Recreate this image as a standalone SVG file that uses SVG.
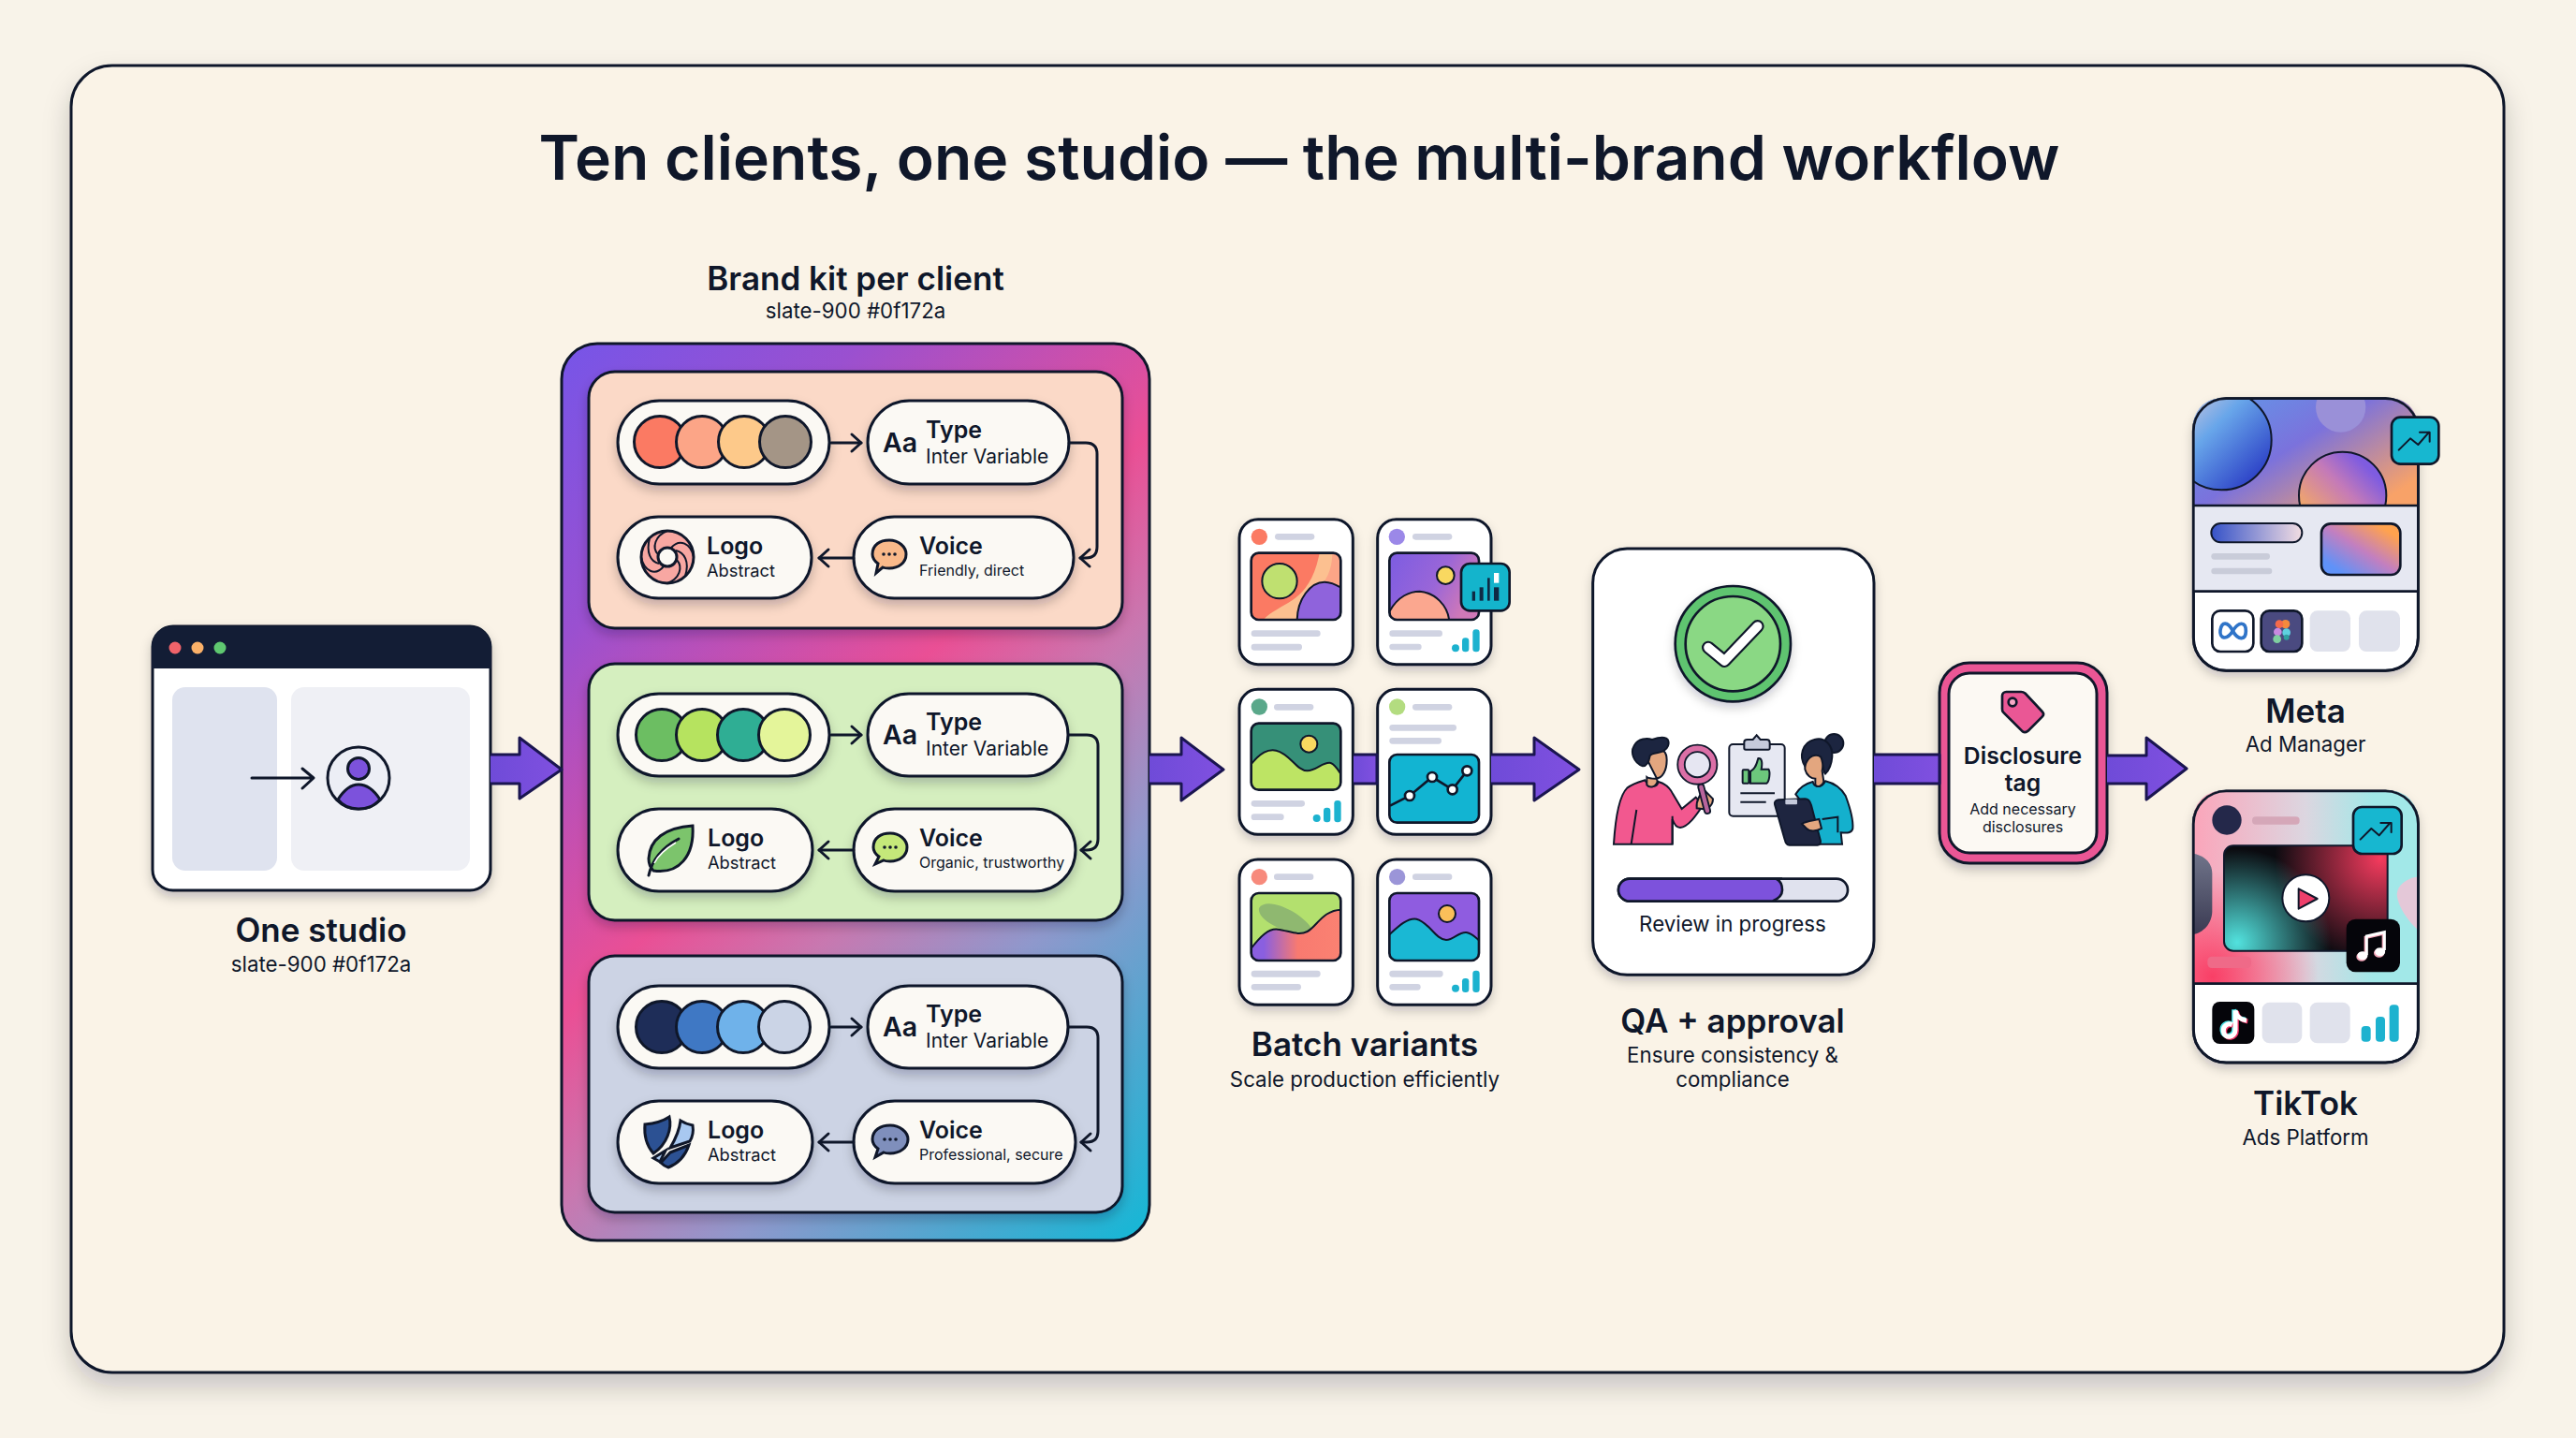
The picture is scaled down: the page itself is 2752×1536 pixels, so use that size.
<svg xmlns="http://www.w3.org/2000/svg" width="2752" height="1536" viewBox="0 0 2752 1536">
<style>
text{font-family:Inter,"Liberation Sans",sans-serif;fill:#0f172a}
.title{font-size:66px;font-weight:600;text-anchor:middle}
.h{font-size:35px;font-weight:600;text-anchor:middle}
.s{font-size:22.3px;font-weight:400;text-anchor:middle}
.pt{font-size:25px;font-weight:600}
.aa{font-size:28.5px;font-weight:600}
.ps{font-size:21px;font-weight:400}
.ps2{font-size:18.3px;font-weight:400}
.ps3{font-size:16px;font-weight:400}
.k{stroke:#0f172a;stroke-width:3}
.z{stroke:#0f172a;stroke-width:8}
.zt{stroke:#0f172a;stroke-width:6}
.pill{fill:#fbf9f4;stroke:#0f172a;stroke-width:3;filter:url(#sh)}
.g{fill:#d0d3e2}
.teal{fill:#1cb2cf}
.card{fill:#fff;stroke:#0f172a;stroke-width:9;filter:url(#shz)}
.ln{fill:none;stroke:#0f172a;stroke-width:3;stroke-linecap:round;stroke-linejoin:round}
.big{fill:url(#pur);stroke:#1a1550;stroke-width:3;stroke-linejoin:round}
</style>
<defs>
<filter id="sh" x="-20%" y="-20%" width="140%" height="150%"><feDropShadow dx="0" dy="6" stdDeviation="6" flood-color="#0f172a" flood-opacity=".22"/></filter>
<filter id="shz" x="-20%" y="-20%" width="140%" height="140%"><feDropShadow dx="0" dy="16" stdDeviation="16" flood-color="#0f172a" flood-opacity=".2"/></filter>
<filter id="shf" x="-5%" y="-5%" width="110%" height="110%"><feDropShadow dx="0" dy="14" stdDeviation="14" flood-color="#0f172a" flood-opacity=".2"/></filter>
<linearGradient id="brand" gradientUnits="userSpaceOnUse" x1="600" y1="367" x2="1393" y2="1160"><stop offset="0" stop-color="#7655e8"/><stop offset=".2" stop-color="#9a50d0"/><stop offset=".456" stop-color="#ea4f95"/><stop offset=".58" stop-color="#c878b0"/><stop offset=".72" stop-color="#8f98cc"/><stop offset=".87" stop-color="#4aa8d0"/><stop offset="1" stop-color="#12b8d6"/></linearGradient>
<linearGradient id="pur" x1="0" y1="0" x2="1" y2="0"><stop offset="0" stop-color="#6f4bd8"/><stop offset="1" stop-color="#8050e0"/></linearGradient>
<linearGradient id="v1" x1="0" y1="0" x2="1" y2=".4"><stop offset="0" stop-color="#7c5ce2"/><stop offset=".6" stop-color="#9a66d8"/><stop offset="1" stop-color="#cf78b8"/></linearGradient>
<linearGradient id="hill3" x1="0" y1="0" x2="1" y2="0"><stop offset=".15" stop-color="#8a5fe0"/><stop offset=".52" stop-color="#f87a70"/><stop offset="1" stop-color="#fb8272"/></linearGradient>
<linearGradient id="hero" x1="0" y1="0" x2="1" y2=".75"><stop offset="0" stop-color="#5f9cea"/><stop offset=".5" stop-color="#7b72dc"/><stop offset="1" stop-color="#f8a268"/></linearGradient>
<linearGradient id="c1" x1="0" y1="0" x2="1" y2="1"><stop offset=".05" stop-color="#dccbdc"/><stop offset=".4" stop-color="#68a6ea"/><stop offset=".85" stop-color="#2f45c8"/></linearGradient>
<linearGradient id="c2" x1="0" y1="1" x2="1" y2="0"><stop offset=".1" stop-color="#ffb452"/><stop offset=".55" stop-color="#c47ab8"/><stop offset=".8" stop-color="#7f5ce0"/></linearGradient>
<linearGradient id="mp" x1="0" y1="0" x2="1" y2="0"><stop offset="0" stop-color="#3552c8"/><stop offset="1" stop-color="#f2dde2"/></linearGradient>
<linearGradient id="mr" x1="0" y1="1" x2="1" y2="0"><stop offset=".15" stop-color="#5f92f8"/><stop offset=".5" stop-color="#c27fc0"/><stop offset=".85" stop-color="#ffa24e"/></linearGradient>
<linearGradient id="tk" x1="0" y1="0" x2="1" y2="0"><stop offset="0" stop-color="#fba5ba"/><stop offset=".5" stop-color="#dcd6e0"/><stop offset=".8" stop-color="#a2e8e8"/></linearGradient>
<radialGradient id="tkr" gradientUnits="userSpaceOnUse" cx="130" cy="640" r="340"><stop offset="0" stop-color="#f93f66"/><stop offset="1" stop-color="#f93f66" stop-opacity="0"/></radialGradient>
<radialGradient id="vr" gradientUnits="userSpaceOnUse" cx="670" cy="260" r="340"><stop offset="0" stop-color="#f53b5e"/><stop offset="1" stop-color="#f53b5e" stop-opacity="0"/></radialGradient>
<radialGradient id="vt" gradientUnits="userSpaceOnUse" cx="210" cy="530" r="300"><stop offset="0" stop-color="#52e2de"/><stop offset="1" stop-color="#52e2de" stop-opacity="0"/></radialGradient>
<linearGradient id="blob" x1="0" y1="0" x2="0" y2="1"><stop offset="0" stop-color="#70748a"/><stop offset="1" stop-color="#3a3a52"/></linearGradient>
<clipPath id="metaTop"><path d="M68,390 V150 C68,85 105,45 170,45 H690 C755,45 790,85 790,150 V390 Z"/></clipPath>
<clipPath id="tkTop"><path d="M68,662 V150 C68,85 105,43 170,43 H690 C755,43 790,85 790,150 V662 Z"/></clipPath>
<clipPath id="vid"><rect x="168" y="220" width="524" height="337" rx="30"/></clipPath>
<clipPath id="i1"><rect x="110" y="152" width="287" height="214" rx="24"/></clipPath>
<clipPath id="i2"><rect x="553" y="152" width="287" height="214" rx="24"/></clipPath>
<clipPath id="i3"><rect x="110" y="698" width="287" height="213" rx="24"/></clipPath>
<clipPath id="i5"><rect x="110" y="162" width="287" height="216" rx="24"/></clipPath>
<clipPath id="i6"><rect x="553" y="162" width="287" height="216" rx="24"/></clipPath>
<marker id="chev" viewBox="-14 -12 17 24" refX="0" refY="0" markerWidth="17" markerHeight="24" markerUnits="userSpaceOnUse" orient="auto"><path d="M-10,-9 L0,0 L-10,9" fill="none" stroke="#0f172a" stroke-width="3" stroke-linecap="round" stroke-linejoin="round"/></marker>
</defs>

<rect width="2752" height="1536" fill="#f8f3e9"/>
<rect id="frame" x="76" y="70" width="2599" height="1396" rx="44" fill="#faf3e7" stroke="#0f172a" stroke-width="3" filter="url(#shf)"/>
<text class="title" x="1388" y="192">Ten clients, one studio — the multi-brand workflow</text>

<g id="one-studio">
<rect x="163" y="669" width="361" height="282" rx="22" fill="#fff" class="k" filter="url(#sh)"/>
<path d="M162,714 V691 C162,678 172,669 185,669 H502 C515,669 525,678 525,691 V714 Z" fill="#131d35"/>
<circle cx="187" cy="692" r="6.5" fill="#f0636a"/><circle cx="211" cy="692" r="6.5" fill="#fbb169"/><circle cx="235" cy="692" r="6.5" fill="#5fc870"/>
<rect x="184" y="734" width="112" height="196" rx="14" fill="#dfe3ef"/>
<rect x="311" y="734" width="191" height="196" rx="14" fill="#eff0f5"/>
<path d="M269,831 H334 M323,821 L335,831 L323,842" class="ln"/>
<circle cx="383" cy="831" r="33" fill="#eceef5" class="k"/>
<circle cx="383" cy="821" r="11.5" fill="#7c52dc" class="k"/>
<path d="M361,854 C368,843 375,838 383,838 C391,838 399,843 406,854 C398,862 392,864 383,864 C374,864 367,862 361,854Z" fill="#7c52dc" class="k"/>
<text class="h" x="343" y="1006">One studio</text>
<text class="s" x="343" y="1038">slate-900 #0f172a</text>
</g>

<g id="brand-kit">
<text class="h" x="914" y="310">Brand kit per client</text>
<text class="s" x="914" y="340">slate-900 #0f172a</text>
<rect x="600" y="367" width="628" height="958" rx="38" fill="url(#brand)" stroke="#0f172a" stroke-width="3"/>

<g id="client-1">
<rect x="629" y="397" width="570" height="274" rx="28" fill="#fbd9c7" class="k" filter="url(#sh)"/>
<g id="c1-palette"><rect x="660" y="428" width="226" height="89" rx="44.5" class="pill"/>
<circle cx="705" cy="472" r="27.5" fill="#fb7a63" class="k"/><circle cx="750" cy="472" r="27.5" fill="#fca587" class="k"/><circle cx="795" cy="472" r="27.5" fill="#fdc98a" class="k"/><circle cx="839" cy="472" r="27.5" fill="#a49586" class="k"/></g>
<g id="c1-type"><rect x="927" y="428" width="215" height="89" rx="44.5" class="pill"/><text class="aa" x="943" y="483">Aa</text><text class="pt" x="989" y="468">Type</text><text class="ps" x="989" y="495">Inter Variable</text></g>
<g id="c1-logo"><rect x="660" y="552" width="207" height="87" rx="43.5" class="pill"/>
<circle cx="713" cy="595" r="28" fill="#f8a7a2" class="k"/><circle cx="713" cy="595" r="10" fill="#fbf9f4" class="k"/>
<path d="M713,567 C700,572 696,585 703,592 M741,595 C738,580 726,575 717,585 M713,623 C726,618 730,606 723,598 M685,595 C688,610 700,616 709,605 M694,575 C690,590 695,600 704,602 M732,615 C737,600 731,590 722,588" fill="none" stroke="#0f172a" stroke-width="2"/>
<text class="pt" x="755" y="592">Logo</text><text class="ps2" x="755" y="616">Abstract</text></g>
<g id="c1-voice"><rect x="912" y="552" width="235" height="87" rx="43.5" class="pill"/>
<path d="M932,592 C932,582 940,577 950,577 C960,577 968,584 968,592 C968,601 960,607 950,607 C947,607 945,607 943,606 L936,612 L938,602 C934,599 932,596 932,592Z" fill="#f9b98a" class="k"/><circle cx="944" cy="592" r="1.8" fill="#0f172a"/><circle cx="950" cy="592" r="1.8" fill="#0f172a"/><circle cx="956" cy="592" r="1.8" fill="#0f172a"/>
<text class="pt" x="982" y="592">Voice</text><text class="ps3" x="982" y="615">Friendly, direct</text></g>
</g>

<g id="client-2">
<rect x="629" y="709" width="570" height="274" rx="28" fill="#d5efbf" class="k" filter="url(#sh)"/>
<g id="c2-palette"><rect x="660" y="741" width="226" height="88" rx="44" class="pill"/>
<circle cx="707" cy="785" r="27.5" fill="#6cbe62" class="k"/><circle cx="750" cy="785" r="27.5" fill="#b6e35f" class="k"/><circle cx="794" cy="785" r="27.5" fill="#2fae94" class="k"/><circle cx="838" cy="785" r="27.5" fill="#e4f59a" class="k"/></g>
<g id="c2-type"><rect x="927" y="741" width="214" height="88" rx="44" class="pill"/><text class="aa" x="943" y="795">Aa</text><text class="pt" x="989" y="780">Type</text><text class="ps" x="989" y="807">Inter Variable</text></g>
<g id="c2-logo"><rect x="660" y="864" width="208" height="88" rx="44" class="pill"/>
<path d="M740,882 C710,884 694,897 693,917 C693,923 695,927 698,930 C725,934 742,915 740,882Z" fill="#7cc46c" class="k"/>
<path d="M693,935 C697,917 708,905 725,896" fill="none" stroke="#0f172a" stroke-width="3" stroke-linecap="round"/>
<path d="M699,922 C704,912 712,906 722,900" fill="none" stroke="#fff" stroke-width="1.5"/>
<text class="pt" x="756" y="904">Logo</text><text class="ps2" x="756" y="928">Abstract</text></g>
<g id="c2-voice"><rect x="912" y="864" width="237" height="88" rx="44" class="pill"/>
<path d="M933,905 C933,895 941,890 951,890 C961,890 969,897 969,905 C969,914 961,920 951,920 C948,920 946,920 944,919 L935,923 L939,915 C935,912 933,909 933,905Z" fill="#c5e87a" class="k"/><circle cx="945" cy="905" r="1.8" fill="#0f172a"/><circle cx="951" cy="905" r="1.8" fill="#0f172a"/><circle cx="957" cy="905" r="1.8" fill="#0f172a"/>
<text class="pt" x="982" y="904">Voice</text><text class="ps3" x="982" y="927">Organic, trustworthy</text></g>
</g>

<g id="client-3">
<rect x="629" y="1021" width="570" height="274" rx="28" fill="#ccd3e4" class="k" filter="url(#sh)"/>
<g id="c3-palette"><rect x="660" y="1053" width="226" height="88" rx="44" class="pill"/>
<circle cx="707" cy="1097" r="27.5" fill="#1e2d58" class="k"/><circle cx="750" cy="1097" r="27.5" fill="#3f78c4" class="k"/><circle cx="794" cy="1097" r="27.5" fill="#6fb2ea" class="k"/><circle cx="838" cy="1097" r="27.5" fill="#cbd4e6" class="k"/></g>
<g id="c3-type"><rect x="927" y="1053" width="214" height="88" rx="44" class="pill"/><text class="aa" x="943" y="1107">Aa</text><text class="pt" x="989" y="1092">Type</text><text class="ps" x="989" y="1119">Inter Variable</text></g>
<g id="c3-logo"><rect x="660" y="1176" width="208" height="88" rx="44" class="pill"/>
<path d="M689,1201 C700,1200 709,1197 715,1193 C718,1205 713,1222 698,1232 C691,1224 688,1212 689,1201Z" fill="#2c5193" class="k"/>
<path d="M727,1197 C730,1199 735,1201 740,1202 C741,1208 740,1214 737,1219 L716,1226 C722,1216 726,1206 727,1197Z" fill="#a8c8f0" class="k"/>
<path d="M698,1237 L711,1229 L705,1241 Z" fill="#a8c8f0" class="k"/>
<path d="M716,1231 L736,1223 C732,1235 724,1243 714,1247 C710,1246 708,1244 706,1242 Z" fill="#2c5193" class="k"/>
<text class="pt" x="756" y="1216">Logo</text><text class="ps2" x="756" y="1240">Abstract</text></g>
<g id="c3-voice"><rect x="912" y="1176" width="237" height="88" rx="44" class="pill"/>
<path d="M932,1217 C932,1207 941,1202 951,1202 C961,1202 970,1209 970,1217 C970,1226 961,1232 951,1232 C948,1232 946,1232 944,1231 L935,1236 L938,1227 C934,1224 932,1221 932,1217Z" fill="#7f8fbc" class="k"/><circle cx="945" cy="1217" r="1.8" fill="#0f172a"/><circle cx="951" cy="1217" r="1.8" fill="#0f172a"/><circle cx="957" cy="1217" r="1.8" fill="#0f172a"/>
<text class="pt" x="982" y="1216">Voice</text><text class="ps3" x="982" y="1239">Professional, secure</text></g>
</g>
</g>

<g id="batch-variants">
<g id="batch-top" transform="translate(1300 540) scale(.33333)">
<g id="v1-card"><rect x="72" y="44" width="364" height="465" rx="60" class="card"/>
<circle cx="136" cy="100" r="26" fill="#fb7a63"/><rect x="186" y="90" width="127" height="20" rx="10" class="g"/>
<g clip-path="url(#i1)"><rect x="110" y="152" width="287" height="214" fill="#fb7a63"/><path d="M145,370 C200,310 280,320 320,190 L330,150 H400 V370Z" fill="#fcc090"/><path d="M370,150 H400 V300 L330,260 C360,230 370,190 370,150Z" fill="#fca587"/><path d="M257,370 C257,300 300,245 345,245 C365,245 385,255 401,265 V370Z" fill="#8f63dc" class="zt"/></g>
<circle cx="201" cy="242" r="56" fill="#bfe070" class="zt"/><rect x="110" y="152" width="287" height="214" rx="24" fill="none" class="z"/>
<rect x="110" y="400" width="222" height="20" rx="10" class="g"/><rect x="110" y="443" width="163" height="21" rx="10" class="g"/></g>
<g id="v2-card"><rect x="515" y="44" width="364" height="465" rx="60" class="card"/>
<circle cx="577" cy="100" r="26" fill="#9b88e8"/><rect x="627" y="90" width="127" height="20" rx="10" class="g"/>
<g clip-path="url(#i2)"><rect x="553" y="152" width="287" height="214" fill="url(#v1)"/><path d="M553,340 C580,290 620,275 650,275 C700,280 740,320 745,370 H553Z" fill="#fba78f" class="zt"/></g>
<circle cx="733" cy="224" r="28" fill="#f9d860" class="zt"/><rect x="553" y="152" width="287" height="214" rx="24" fill="none" class="z"/>
<rect x="553" y="400" width="170" height="20" rx="10" class="g"/><rect x="553" y="443" width="103" height="20" rx="10" class="g"/>
<circle cx="765" cy="457" r="12" class="teal"/><rect x="786" y="424" width="22" height="45" rx="10" class="teal"/><rect x="820" y="397" width="22" height="72" rx="10" class="teal"/>
<rect x="783" y="186" width="155" height="151" rx="28" fill="#14b4cc" class="z"/>
<rect x="818" y="275" width="10" height="30" fill="#0f2a44"/><rect x="842" y="262" width="12" height="43" fill="#0f2a44"/><rect x="867" y="232" width="8" height="73" fill="#0f2a44"/><rect x="888" y="262" width="16" height="43" fill="#0f2a44"/><rect x="888" y="216" width="16" height="32" fill="#fff"/></g>
<g id="v3-card"><rect x="72" y="589" width="364" height="465" rx="60" class="card"/>
<circle cx="136" cy="645" r="26" fill="#5aa88a"/><rect x="183" y="636" width="127" height="20" rx="10" class="g"/>
<g clip-path="url(#i3)"><rect x="110" y="698" width="287" height="213" fill="#369078"/><path d="M106,834 C140,790 165,780 190,785 C235,795 255,850 290,850 C320,850 340,820 365,825 C380,830 390,850 401,866 V915 H106Z" fill="#bde464" class="zt"/></g>
<circle cx="295" cy="764" r="27" fill="#f9d860" class="zt"/><rect x="110" y="698" width="287" height="213" rx="24" fill="none" class="z"/>
<rect x="110" y="945" width="172" height="20" rx="10" class="g"/><rect x="110" y="988" width="105" height="20" rx="10" class="g"/>
<circle cx="320" cy="1002" r="12" class="teal"/><rect x="342" y="968" width="22" height="47" rx="10" class="teal"/><rect x="376" y="945" width="22" height="70" rx="10" class="teal"/></g>
<g id="v4-card"><rect x="515" y="589" width="364" height="465" rx="60" class="card"/>
<circle cx="578" cy="645" r="26" fill="#b3dc80"/><rect x="627" y="636" width="127" height="20" rx="10" class="g"/>
<rect x="553" y="702" width="215" height="20" rx="10" class="g"/><rect x="553" y="744" width="167" height="20" rx="10" class="g"/>
<rect x="553" y="798" width="287" height="218" rx="24" fill="#12b4d2" class="z"/>
<path d="M555,962 L618,930 L690,870 L755,910 L802,850" fill="none" class="z"/>
<g fill="#fff" class="z"><circle cx="618" cy="930" r="15"/><circle cx="690" cy="870" r="15"/><circle cx="755" cy="910" r="15"/><circle cx="802" cy="850" r="15"/></g></g>
</g>
<g id="batch-bottom" transform="translate(1300 900) scale(.33333)">
<g id="v5-card"><rect x="72" y="54" width="364" height="466" rx="60" class="card"/>
<circle cx="136" cy="110" r="26" fill="#f78a7c"/><rect x="183" y="100" width="127" height="20" rx="10" class="g"/>
<g clip-path="url(#i5)"><rect x="110" y="162" width="287" height="216" fill="#b3e06e"/><path d="M135,210 C150,185 200,195 250,225 C280,245 300,265 305,280 C290,295 260,295 230,285 C180,270 130,240 135,210Z" fill="#8fb870"/><path d="M106,344 C140,300 165,275 195,278 C230,282 260,300 290,285 C320,270 340,215 401,215 V382 H106Z" fill="url(#hill3)" class="zt"/></g>
<rect x="110" y="162" width="287" height="216" rx="24" fill="none" class="z"/>
<rect x="110" y="410" width="222" height="21" rx="10" class="g"/><rect x="110" y="453" width="160" height="20" rx="10" class="g"/></g>
<g id="v6-card"><rect x="515" y="54" width="364" height="466" rx="60" class="card"/>
<circle cx="578" cy="110" r="26" fill="#9b95d8"/><rect x="627" y="100" width="127" height="20" rx="10" class="g"/>
<g clip-path="url(#i6)"><rect x="553" y="162" width="287" height="216" fill="#8f5ce0"/><path d="M549,298 C580,270 610,240 640,245 C680,255 700,310 735,312 C760,312 775,285 800,288 C820,292 830,305 844,316 V382 H549Z" fill="#1ab8d4" class="zt"/></g>
<circle cx="738" cy="228" r="27" fill="#fbbf5a" class="zt"/><rect x="553" y="162" width="287" height="216" rx="24" fill="none" class="z"/>
<rect x="553" y="410" width="172" height="21" rx="10" class="g"/><rect x="553" y="453" width="100" height="20" rx="10" class="g"/>
<circle cx="765" cy="467" r="12" class="teal"/><rect x="786" y="435" width="22" height="45" rx="10" class="teal"/><rect x="820" y="410" width="22" height="70" rx="10" class="teal"/></g>
</g>
<text class="h" x="1458" y="1128">Batch variants</text>
<text class="s" x="1458" y="1161">Scale production efficiently</text>
</g>

<g id="qa-approval">
<g transform="translate(1680 570) scale(.33333)">
<rect x="65" y="48" width="901" height="1366" rx="110" class="card"/>
<circle cx="514" cy="353" r="185" fill="#5fc46f" class="z" filter="url(#shz)"/>
<circle cx="514" cy="353" r="152" fill="#8ad884" class="z"/>
<path d="M435,365 L487,408 L593,297" fill="none" stroke="#0f172a" stroke-width="42" stroke-linecap="round" stroke-linejoin="round"/>
<path d="M435,365 L487,408 L593,297" fill="none" stroke="#fff" stroke-width="29" stroke-linecap="round" stroke-linejoin="round"/>
<g id="reviewer">
<path d="M132,995 C138,900 150,840 175,815 C195,800 215,795 232,790 C245,815 270,815 275,795 C295,800 312,815 322,835 L350,882 L395,845 L418,870 C395,905 370,940 345,942 C335,942 325,930 320,915 V995Z" fill="#f2588f" class="zt"/>
<path d="M205,885 L188,995 M320,905 V995" fill="none" class="zt"/>
<path d="M232,710 C232,695 250,690 270,690 C290,690 302,700 302,725 C302,755 290,785 265,785 C250,785 245,785 238,780 V805 C245,815 265,815 272,795 L270,785 Z" fill="#e3a67f" class="zt"/>
<path d="M225,745 C195,735 185,700 197,680 C210,655 240,655 255,660 C270,655 295,648 305,660 C312,672 305,690 290,697 C275,705 255,700 248,712 C245,730 240,745 225,745Z" fill="#1c2540" class="zt"/>
<path d="M398,880 C395,855 410,830 425,825 L450,850 C450,870 435,885 415,882Z" fill="#e3a67f" class="zt"/>
<path d="M412,812 L432,888" stroke="#0f172a" stroke-width="24" stroke-linecap="round"/><path d="M412,812 L432,888" stroke="#b9659c" stroke-width="13" stroke-linecap="round"/>
<circle cx="400" cy="740" r="52" fill="#e6e6f2" stroke="#0f172a" stroke-width="28"/><circle cx="400" cy="740" r="52" fill="none" stroke="#db6fa6" stroke-width="17"/>
</g>
<g id="clipboard">
<rect x="502" y="675" width="178" height="230" rx="12" fill="#e6e8f2" class="zt"/>
<path d="M550,688 V668 C550,662 555,660 560,660 H578 L590,646 L602,660 H622 C628,660 632,664 632,670 V688 C632,690 630,692 628,692 H555 C552,692 550,690 550,688Z" fill="#c5cadb" class="zt"/>
<rect x="545" y="757" width="20" height="43" rx="3" fill="#6cc77c" class="zt"/>
<path d="M570,762 C585,755 590,740 595,720 C605,718 610,730 605,755 H628 C635,765 630,795 622,800 H570Z" fill="#6cc77c" class="zt"/>
<path d="M538,832 H648 M538,860 H620" fill="none" class="zt"/>
</g>
<g id="approver">
<path d="M715,835 C730,810 750,800 770,795 C775,815 800,815 810,793 C840,800 860,815 875,840 C890,880 900,920 898,945 C895,960 880,960 860,958 L864,995 H790 L765,900Z" fill="#14b0cd" class="zt"/>
<path d="M800,915 L850,908 V958" fill="none" class="zt"/>
<path d="M745,695 V755 C750,775 765,785 778,785 V805 C785,815 800,810 805,795 L800,760 L810,700Z" fill="#e3a67f" class="zt"/>
<circle cx="838" cy="672" r="30" fill="#1c2540" class="zt"/>
<path d="M745,745 C725,715 735,670 775,660 C810,650 835,680 832,715 C830,740 825,755 810,770 C800,760 805,730 795,715 C780,705 755,710 745,745Z" fill="#1c2540" class="zt"/>
<path d="M648,868 C646,860 650,855 660,853 L745,850 C755,850 762,860 765,870 L795,985 C795,995 790,998 785,998 H695 C685,998 682,990 680,980Z" fill="#1e2540" class="zt"/>
<rect x="682" y="851" width="38" height="17" rx="3" fill="#c5cadb"/>
<path d="M735,930 C750,920 770,920 790,915 L798,945 C780,955 760,955 750,945Z" fill="#e3a67f" class="zt"/>
</g>
<rect x="147" y="1106" width="735" height="72" rx="36" fill="#e0e2ee" class="z"/>
<path d="M672,1106 H183 C163,1106 147,1122 147,1142 C147,1162 163,1178 183,1178 H640 C660,1170 672,1160 672,1142 C672,1125 665,1112 652,1106Z" fill="#7d52dc" class="z"/>
</g>
<text class="s" x="1851" y="995">Review in progress</text>
<text class="h" x="1851" y="1103">QA + approval</text>
<text class="s" x="1851" y="1135">Ensure consistency &amp;</text>
<text class="s" x="1851" y="1161">compliance</text>
</g>

<g id="disclosure-tag">
<rect x="2072" y="708" width="179" height="214" rx="32" fill="#ea5795" class="k" filter="url(#sh)"/>
<rect x="2082" y="719" width="158" height="192" rx="22" fill="#fcf9f3" class="k"/>
<g transform="translate(2040 690) scale(.33333)"><path d="M310,147 H358 C365,147 368,150 372,153 L425,210 C430,215 430,222 425,227 L380,272 C372,278 365,278 360,272 L300,212 C296,208 297,205 297,195 V160 C297,152 303,147 310,147Z" fill="#ea5795" class="z"/><circle cx="330" cy="180" r="13" fill="#f6a8c6" class="z"/></g>
<text x="2161" y="816" font-size="24.7" font-weight="600" text-anchor="middle">Disclosure</text>
<text x="2161" y="845" font-size="24.7" font-weight="600" text-anchor="middle">tag</text>
<text x="2161" y="870" font-size="16" text-anchor="middle">Add necessary</text>
<text x="2161" y="889" font-size="16" text-anchor="middle">disclosures</text>
</g>

<g id="meta">
<g transform="translate(2320 410) scale(.33333)">
<rect x="70" y="47" width="720" height="872" rx="105" fill="#fff" class="card"/>
<g clip-path="url(#metaTop)"><rect x="68" y="45" width="722" height="345" fill="url(#hero)"/><circle cx="542" cy="75" r="80" fill="#9a90d8"/><circle cx="160" cy="180" r="160" fill="url(#c1)" class="zt"/><circle cx="548" cy="358" r="140" fill="url(#c2)" class="zt"/></g>
<rect x="70" y="390" width="720" height="275" fill="#e6e8f2"/>
<rect x="70" y="47" width="720" height="872" rx="105" fill="none" class="z"/>
<path d="M68,390 H790 M68,665 H790" class="z"/>
<rect x="127" y="447" width="291" height="61" rx="30" fill="url(#mp)" class="zt"/>
<rect x="127" y="543" width="188" height="20" rx="10" fill="#c9ccd9"/><rect x="127" y="590" width="195" height="20" rx="10" fill="#c9ccd9"/>
<rect x="480" y="448" width="253" height="164" rx="30" fill="url(#mr)" class="z"/>
<rect x="130" y="727" width="132" height="131" rx="26" fill="#fff" class="z"/>
<path d="M196,792 C180,760 160,762 156,790 C153,815 175,825 196,792 C215,760 238,762 238,792 C238,820 215,825 196,792Z" fill="none" stroke="#2f74c8" stroke-width="11"/>
<rect x="287" y="727" width="131" height="131" rx="26" fill="#4a4a80" class="z"/>
<circle cx="365" cy="770" r="14" fill="#f58a3c"/><circle cx="345" cy="770" r="13" fill="#f56a4a"/><circle cx="340" cy="795" r="13" fill="#c88ae0"/><circle cx="368" cy="797" r="13" fill="#5fd0e0"/><circle cx="338" cy="818" r="13" fill="#7fcfa0"/><circle cx="368" cy="812" r="9" fill="#2fa0a0"/>
<rect x="443" y="727" width="130" height="131" rx="24" fill="#e0e2ec"/><rect x="600" y="727" width="132" height="131" rx="24" fill="#e0e2ec"/>
<rect x="705" y="107" width="151" height="150" rx="28" fill="#17b7d0" class="z"/>
<path d="M728,212 L765,175 L790,195 L825,155 M795,155 H827 V185" fill="none" class="zt" stroke-linecap="round" stroke-linejoin="round"/>
</g>
<text class="h" x="2463" y="772">Meta</text>
<text class="s" x="2463" y="803">Ad Manager</text>
</g>

<g id="tiktok">
<g transform="translate(2320 830) scale(.33333)">
<rect x="70" y="45" width="720" height="870" rx="105" fill="#fff" class="card"/>
<g clip-path="url(#tkTop)"><rect x="68" y="43" width="722" height="619" fill="url(#tk)"/><rect x="68" y="43" width="722" height="619" fill="url(#tkr)"/>
<path d="M68,245 C100,250 130,270 130,310 V430 C130,470 100,500 68,505Z" fill="url(#blob)"/>
<path d="M795,318 C750,325 725,345 722,375 C725,420 765,470 795,495Z" fill="#e4c8d8"/>
</g>
<rect x="70" y="45" width="720" height="870" rx="105" fill="none" class="z"/>
<circle cx="177" cy="138" r="47" fill="#24284a"/>
<rect x="258" y="127" width="152" height="25" rx="12" fill="#d5a7b8"/>
<rect x="115" y="575" width="140" height="37" rx="14" fill="#ef6a88"/>
<g clip-path="url(#vid)"><rect x="168" y="220" width="524" height="337" fill="#0b0b10"/><rect x="168" y="220" width="524" height="337" fill="url(#vr)"/><rect x="168" y="220" width="524" height="337" fill="url(#vt)"/></g>
<rect x="168" y="220" width="524" height="337" rx="30" fill="none" class="zt"/>
<circle cx="430" cy="388" r="75" fill="#fff" class="zt"/>
<path d="M407,358 L467,390 L407,422Z" fill="#ee3f6b" class="zt" stroke-linejoin="round"/>
<rect x="560" y="455" width="172" height="170" rx="30" fill="#05050a"/>
<g fill="none" stroke="#f7a8bb" stroke-width="10" transform="translate(-3 4)"><path d="M625,570 V510 L682,497 V555"/><ellipse cx="612" cy="572" rx="12" ry="9"/><ellipse cx="668" cy="560" rx="12" ry="9"/></g>
<g fill="#fff" stroke="#fff" stroke-width="9"><path d="M625,570 V510 L682,497 V555" fill="none"/><ellipse cx="612" cy="572" rx="12" ry="9"/><ellipse cx="668" cy="560" rx="12" ry="9"/></g>
<rect x="582" y="96" width="155" height="150" rx="28" fill="#17b7d0" class="z"/>
<path d="M605,200 L640,165 L665,187 L700,147 M670,147 H704 V177" fill="none" class="zt" stroke-linecap="round" stroke-linejoin="round"/>
<path d="M68,662 H790" class="z"/>
<rect x="130" y="720" width="135" height="135" rx="24" fill="#05050a"/>
<g fill="none" stroke-width="15">
<path d="M200,745 V808 C200,832 165,838 162,812 C160,795 175,785 190,790 M200,745 C205,770 220,775 236,777" stroke="#4fe0e6"/>
<path d="M208,751 V814 C208,838 173,844 170,818 C168,801 183,791 198,796 M208,751 C213,776 228,781 244,783" stroke="#f0386a"/>
<path d="M204,748 V811 C204,835 169,841 166,815 C164,798 179,788 194,793 M204,748 C209,773 224,778 240,780" stroke="#fff"/>
</g>
<rect x="290" y="722" width="128" height="131" rx="24" fill="#e0e2ec"/><rect x="443" y="722" width="129" height="131" rx="24" fill="#e0e2ec"/>
<rect x="608" y="798" width="30" height="50" rx="12" class="teal"/><rect x="654" y="768" width="30" height="80" rx="12" class="teal"/><rect x="698" y="730" width="30" height="118" rx="12" class="teal"/>
</g>
<text class="h" x="2463" y="1191">TikTok</text>
<text class="s" x="2463" y="1223">Ads Platform</text>
</g>

<g id="connectors">
<path class="big" d="M524,806 H555 V788 L600,822 L555,853 V837 H524"/>
<path class="big" d="M1228,806 H1262 V788 L1307,822 L1262,855 V837 H1228"/>
<path class="big" d="M1446,806 H1471 V837 H1446"/>
<path class="big" d="M1593,806 H1639 V788 L1687,822 L1639,855 V837 H1593"/>
<path class="big" d="M2002,806 H2072 V837 H2002"/>
<path class="big" d="M2251,807 H2293 V788 L2336,821 L2293,854 V837 H2251"/>
<g class="ln">
<path d="M888,473 H920" marker-end="url(#chev)"/>
<path d="M1142,473 H1160 Q1172,473 1172,485 V584 Q1172,596 1160,596 H1154" marker-end="url(#chev)"/>
<path d="M912,596 H875" marker-end="url(#chev)"/>
<path d="M888,785 H920" marker-end="url(#chev)"/>
<path d="M1142,785 H1161 Q1173,785 1173,797 V896 Q1173,908 1161,908 H1155" marker-end="url(#chev)"/>
<path d="M912,908 H875" marker-end="url(#chev)"/>
<path d="M888,1097 H920" marker-end="url(#chev)"/>
<path d="M1142,1097 H1161 Q1173,1097 1173,1109 V1208 Q1173,1220 1161,1220 H1155" marker-end="url(#chev)"/>
<path d="M912,1220 H875" marker-end="url(#chev)"/>
</g>
</g>
</svg>
